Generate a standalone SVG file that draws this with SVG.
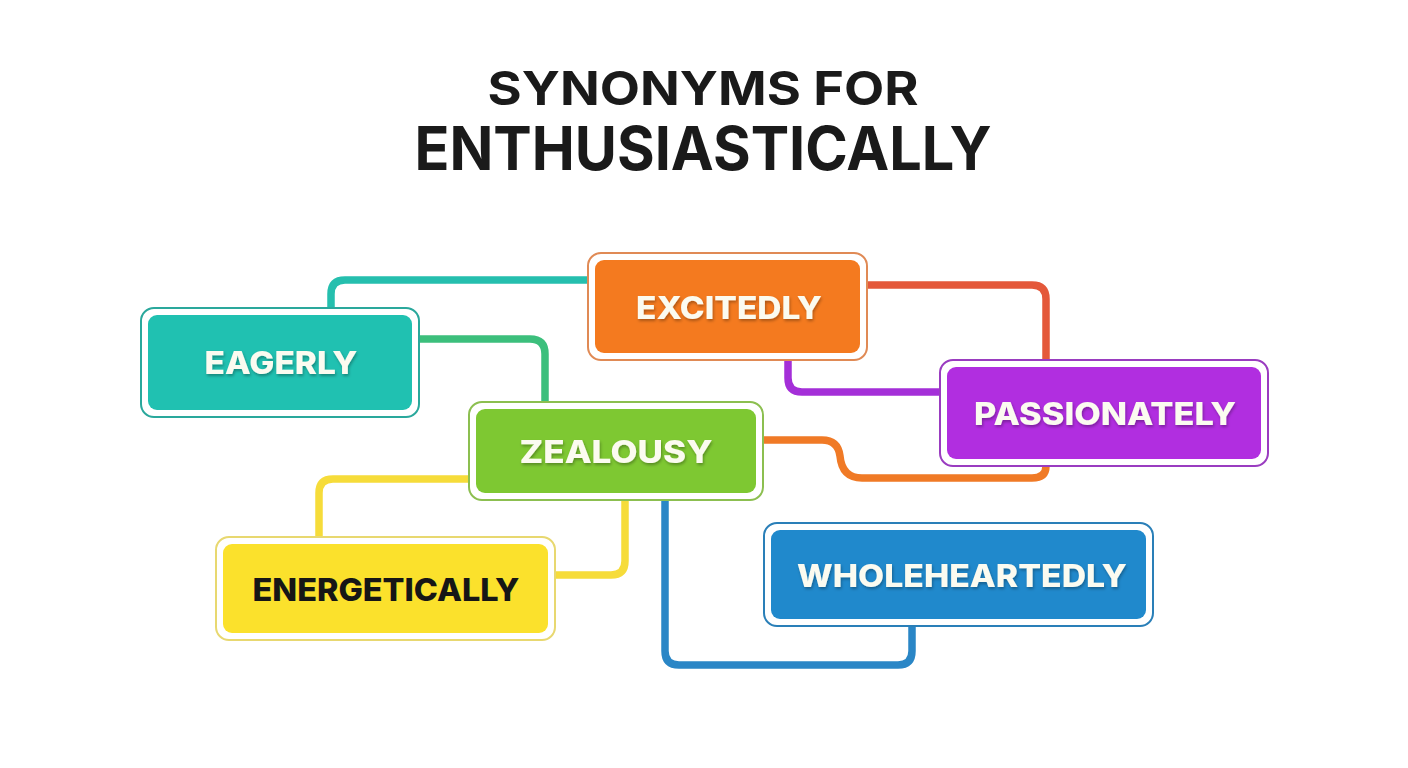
<svg xmlns="http://www.w3.org/2000/svg" width="1408" height="768" viewBox="0 0 1408 768">
<defs>
<style>
.title{font-family:Inter,"Liberation Sans",sans-serif;font-weight:700;fill:#1a1a1a;text-anchor:middle}
.lbl{font-family:Inter,"Liberation Sans",sans-serif;font-weight:800;font-size:31px;text-anchor:middle;fill:#fbfbf0}
.dark{fill:#161616}
.outer{fill:#ffffff;stroke-width:2}
.con{fill:none;stroke-width:7.5;stroke-linecap:round;stroke-linejoin:round}
</style>
<filter id="ts" x="-10%" y="-30%" width="120%" height="160%">
<feDropShadow dx="1" dy="2" stdDeviation="1.5" flood-color="#000" flood-opacity="0.3"/>
</filter>
</defs>
<rect width="1408" height="768" fill="#ffffff"/>
<text class="title" x="703" y="105" font-size="47" textLength="431" lengthAdjust="spacingAndGlyphs">SYNONYMS FOR</text>
<text class="title" x="703" y="170" font-size="61" font-weight="600" textLength="577" lengthAdjust="spacingAndGlyphs">ENTHUSIASTICALLY</text>

<g id="connectors">
<path class="con" stroke="#25bfae" d="M331 308 V294 Q331 280 345 280 H590"/>
<path class="con" stroke="#3cbf7c" d="M419 339 H530 Q545 339 545 354 V402"/>
<path class="con" stroke="#e4583a" d="M867 285 H1032 Q1046 285 1046 299 V360"/>
<path class="con" stroke="#a42fd8" d="M788 360 V378 Q788 392 802 392 H940"/>
<path class="con" stroke="#f07a26" d="M763 440 H822 Q838 440 840 456 Q842 478 862 478 H1032 Q1046 478 1046 466"/>
<path class="con" stroke="#f6dc3a" d="M469 479 H333 Q319 479 319 493 V537"/>
<path class="con" stroke="#f6dc3a" d="M625 500 V561 Q625 575 611 575 H555"/>
<path class="con" stroke="#2a86c6" d="M665 500 V651 Q665 665 679 665 H898 Q912 665 912 651 V626"/>
</g>

<g id="node-eagerly">
<rect class="outer" x="141" y="308" width="278" height="109" rx="13" stroke="#2aa89c"/>
<rect x="148" y="315" width="264" height="95" rx="9" fill="#20c1b1"/>
<text class="lbl" x="281" y="374" textLength="153" lengthAdjust="spacingAndGlyphs" filter="url(#ts)">EAGERLY</text>
</g>

<g id="node-excitedly">
<rect class="outer" x="588" y="253" width="279" height="107" rx="13" stroke="#e08a55"/>
<rect x="595" y="260" width="265" height="93" rx="9" fill="#f47a1f"/>
<text class="lbl" x="729" y="319" textLength="186" lengthAdjust="spacingAndGlyphs" filter="url(#ts)">EXCITEDLY</text>
</g>

<g id="node-passionately">
<rect class="outer" x="940" y="360" width="328" height="106" rx="13" stroke="#9a3cc0"/>
<rect x="947" y="367" width="314" height="92" rx="9" fill="#b12ee0"/>
<text class="lbl" x="1105" y="425" textLength="262" lengthAdjust="spacingAndGlyphs" filter="url(#ts)">PASSIONATELY</text>
</g>

<g id="node-zealousy">
<rect class="outer" x="469" y="402" width="294" height="98" rx="13" stroke="#8cbf50"/>
<rect x="476" y="409" width="280" height="84" rx="9" fill="#7ec832"/>
<text class="lbl" x="616" y="463" textLength="193" lengthAdjust="spacingAndGlyphs" filter="url(#ts)">ZEALOUSY</text>
</g>

<g id="node-energetically">
<rect class="outer" x="216" y="537" width="339" height="103" rx="13" stroke="#e8d870"/>
<rect x="223" y="544" width="325" height="89" rx="9" fill="#fbe12c"/>
<text class="lbl dark" x="386" y="601" textLength="267" lengthAdjust="spacingAndGlyphs">ENERGETICALLY</text>
</g>

<g id="node-wholeheartedly">
<rect class="outer" x="764" y="523" width="389" height="103" rx="13" stroke="#2a7fb8"/>
<rect x="771" y="530" width="375" height="89" rx="9" fill="#2089cc"/>
<text class="lbl" x="962" y="587" textLength="330" lengthAdjust="spacingAndGlyphs" filter="url(#ts)">WHOLEHEARTEDLY</text>
</g>
</svg>
